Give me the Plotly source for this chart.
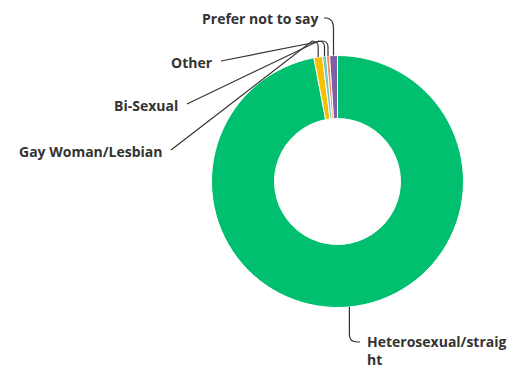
import math
import plotly.graph_objects as go

# Survey answers, in clockwise order starting at 12 o'clock
categories = ["Heterosexual/straight", "Gay Woman/Lesbian", "Bi-Sexual", "Other", "Prefer not to say"]
shares = [97.0, 1.1, 0.5, 0.4, 1.0]
colors = ["#00BF6F", "#F9BE00", "#6BC8CD", "#FF8B4F", "#7F5FA5"]

W, H = 529, 369
CX, CY, R = 337.5, 181.5, 126.0   # donut centre and outer radius, in pixels

fig = go.Figure()

fig.add_trace(go.Pie(
    labels=categories,
    values=shares,
    hole=0.5,
    sort=False,
    direction="clockwise",
    rotation=0,
    marker=dict(colors=colors, line=dict(color="white", width=1)),
    textinfo="none",
    hoverinfo="label+percent",
    showlegend=False,
    domain=dict(x=[(CX - R) / W, (CX + R) / W],
                y=[(H - CY - R) / H, (H - CY + R) / H]),
))

# invisible pixel-space axes for the leader lines
fig.add_trace(go.Scatter(x=[0, W], y=[0, H], mode="markers",
                         marker=dict(opacity=0), hoverinfo="skip", showlegend=False))

# mid-angle of each slice (degrees clockwise from top)
total = sum(shares)
mids = []
acc = 0.0
for v in shares:
    mids.append((acc + v / 2) / total * 360.0)
    acc += v

def edge_point(deg):
    a = math.radians(deg)
    return CX + R * math.sin(a), CY - R * math.cos(a)

# label text and the point where each leader line ends
label_specs = {
    "Heterosexual/straight": dict(text="Heterosexual/straig<br>ht", x=365, y=350, end=(360, 342), xanchor="left"),
    "Gay Woman/Lesbian": dict(text="Gay Woman/Lesbian", x=165, y=151, end=(171, 150), xanchor="right"),
    "Bi-Sexual": dict(text="Bi-Sexual", x=180, y=105, end=(187, 104), xanchor="right"),
    "Other": dict(text="Other", x=215, y=62, end=(221, 61), xanchor="right"),
    "Prefer not to say": dict(text="Prefer not to say", x=320, y=18, end=(324, 18), xanchor="right"),
}

shapes = []
line_style = dict(color="#333333", width=1.2)
for cat, deg in zip(categories, mids):
    sx, sy = edge_point(deg)
    spec = label_specs[cat]
    ex, ey = spec["end"]
    if cat == "Heterosexual/straight":
        path = f"M {sx:.1f},{sy:.1f} L {sx:.1f},{ey - 7:.1f} Q {sx:.1f},{ey:.1f} {sx + 8:.1f},{ey:.1f} L {ex},{ey}"
    elif cat == "Prefer not to say":
        path = f"M {sx:.1f},{sy:.1f} L {sx:.1f},{ey + 10:.1f} Q {sx:.1f},{ey + 1:.1f} {sx - 7:.1f},{ey:.1f} L {ex},{ey}"
    else:
        ky = 41.0
        path = (f"M {sx:.1f},{sy:.1f} L {sx:.1f},{ky + 6:.1f} "
                f"Q {sx:.1f},{ky:.1f} {sx - 6:.1f},{ky:.1f} L {ex},{ey}")
    shapes.append(dict(type="path", path=path, xref="x", yref="y", line=line_style))

annotations = []
for cat in categories:
    spec = label_specs[cat]
    annotations.append(dict(
        x=spec["x"], y=spec["y"], xref="x", yref="y",
        text=spec["text"], showarrow=False,
        xanchor=spec["xanchor"], yanchor="middle", align="left",
        font=dict(family="Open Sans", size=14, color="#333333", weight=700),
    ))

fig.update_layout(
    width=W, height=H,
    margin=dict(l=0, r=0, t=0, b=0),
    paper_bgcolor="white", plot_bgcolor="rgba(0,0,0,0)",
    xaxis=dict(range=[0, W], visible=False, fixedrange=True),
    yaxis=dict(range=[H, 0], visible=False, fixedrange=True),
    shapes=shapes,
    annotations=annotations,
)

fig.write_html("out.html")
